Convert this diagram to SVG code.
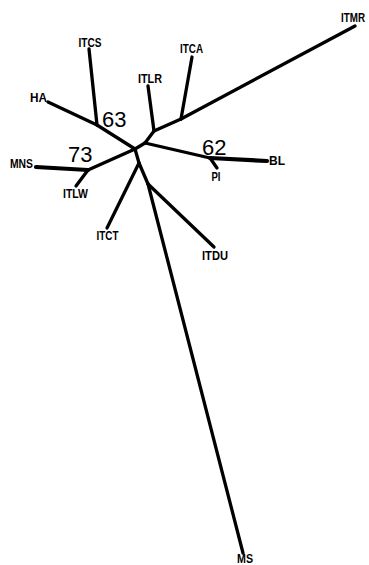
<svg xmlns="http://www.w3.org/2000/svg" width="369" height="565" viewBox="0 0 369 565">
  <style>
    .br { stroke: #000; stroke-width: 3.3; stroke-linecap: round; fill: none; }
    .thick { stroke-width: 4.2; }
    .tx { font-family: "Liberation Sans", Arial, sans-serif; font-weight: bold; font-size: 12px; fill: #000; text-anchor: middle; }
    .bs { font-family: "Liberation Sans", Arial, sans-serif; font-size: 22px; fill: #000; }
  </style>
  <rect width="369" height="565" fill="#fff"/>

  <g id="connectors">
    <!-- internal branches -->
    <line class="br" x1="97" y1="125" x2="135" y2="149"/>
    <line class="br" x1="88" y1="170" x2="135" y2="149"/>
    <line class="br" x1="135" y1="149" x2="145" y2="143"/>
    <line class="br" x1="145" y1="143" x2="154" y2="131"/>
    <line class="br" x1="154" y1="131" x2="181" y2="119"/>
    <line class="br" x1="145" y1="143" x2="210" y2="158"/>
    <line class="br" x1="135" y1="149" x2="139" y2="163"/>
    <line class="br" x1="139" y1="163" x2="148" y2="184"/>
    <!-- terminal branches -->
    <line class="br" x1="89" y1="49" x2="97" y2="125"/>
    <line class="br" x1="48" y1="102" x2="97" y2="125"/>
    <line class="br thick" x1="36" y1="167" x2="88" y2="170"/>
    <line class="br" x1="76" y1="186" x2="88" y2="170"/>
    <line class="br" x1="148" y1="86" x2="154" y2="131"/>
    <line class="br" x1="192" y1="57" x2="181" y2="119"/>
    <line class="br" x1="355" y1="26" x2="181" y2="119"/>
    <line class="br thick" x1="210" y1="158" x2="267" y2="161"/>
    <line class="br" x1="210" y1="158" x2="217" y2="168"/>
    <line class="br" x1="139" y1="163" x2="107" y2="228"/>
    <line class="br" x1="148" y1="184" x2="214" y2="247"/>
    <line class="br" x1="148" y1="184" x2="243" y2="553"/>
  </g>

  <g id="support">
    <text class="bs" x="102" y="127">63</text>
    <text class="bs" x="68" y="162">73</text>
    <text class="bs" x="202" y="155">62</text>
  </g>

  <g id="ITCS"><text class="tx" x="90" y="47" textLength="23" lengthAdjust="spacingAndGlyphs">ITCS</text></g>
  <g id="HA"><text class="tx" x="38.5" y="102" textLength="17" lengthAdjust="spacingAndGlyphs">HA</text></g>
  <g id="MNS"><text class="tx" x="21.5" y="168" textLength="23" lengthAdjust="spacingAndGlyphs">MNS</text></g>
  <g id="ITLW"><text class="tx" x="75.5" y="198" textLength="25" lengthAdjust="spacingAndGlyphs">ITLW</text></g>
  <g id="ITLR"><text class="tx" x="150" y="83" textLength="24" lengthAdjust="spacingAndGlyphs">ITLR</text></g>
  <g id="ITCA"><text class="tx" x="191.5" y="53" textLength="23" lengthAdjust="spacingAndGlyphs">ITCA</text></g>
  <g id="ITMR"><text class="tx" x="353" y="22" textLength="24" lengthAdjust="spacingAndGlyphs">ITMR</text></g>
  <g id="BL"><text class="tx" x="277" y="165" textLength="16" lengthAdjust="spacingAndGlyphs">BL</text></g>
  <g id="PI"><text class="tx" x="216" y="181" textLength="9" lengthAdjust="spacingAndGlyphs">PI</text></g>
  <g id="ITCT"><text class="tx" x="107.5" y="240" textLength="22" lengthAdjust="spacingAndGlyphs">ITCT</text></g>
  <g id="ITDU"><text class="tx" x="215" y="260" textLength="26" lengthAdjust="spacingAndGlyphs">ITDU</text></g>
  <g id="MS"><text class="tx" x="245" y="563" textLength="16" lengthAdjust="spacingAndGlyphs">MS</text></g>
</svg>
